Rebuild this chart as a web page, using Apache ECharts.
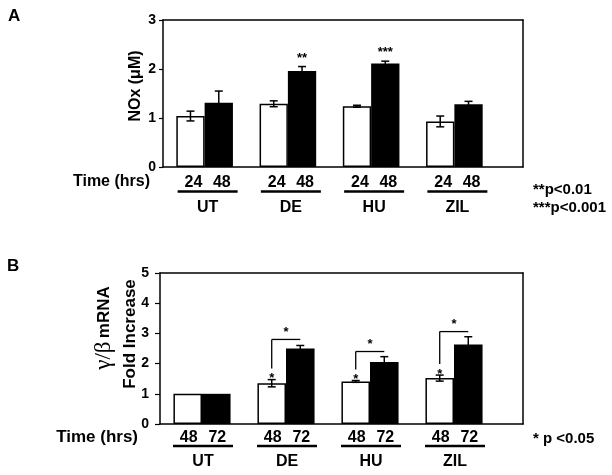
<!DOCTYPE html>
<html>
<head>
<meta charset="utf-8">
<script src="https://cdn.jsdelivr.net/npm/echarts@6/dist/echarts.min.js"></script>
<style>
html,body{margin:0;padding:0;background:#fff;}
#c{width:612px;height:475px;}
</style>
</head>
<body>
<div id="c"></div>
<script>
// ---------- data ----------
const categories = ['UT', 'DE', 'HU', 'ZIL'];

// Panel A: NOx (uM)
const timesA = ['24', '48'];
const nox24 = [1.04, 1.29, 1.24, 0.93];
const nox24Err = [0.10, 0.06, 0.02, 0.11];
const nox48 = [1.31, 1.96, 2.11, 1.28];
const nox48Err = [0.24, 0.09, 0.05, 0.06];
const noxStars = ['', '**', '***', ''];
const yTicksA = [0, 1, 2, 3];

// Panel B: gamma/beta mRNA fold increase
const timesB = ['48', '72'];
const mrna48 = [1.00, 1.35, 1.41, 1.52];
const mrna48Err = [0, 0.12, 0.03, 0.10];
const mrna72 = [1.00, 2.50, 2.05, 2.63];
const mrna72Err = [0, 0.10, 0.18, 0.26];
const mrna48Stars = ['', '*', '*', '*'];
const bracketTop = [null, 2.80, 2.40, 3.06];
const bracketStars = ['', '*', '*', '*'];
const yTicksB = [0, 1, 2, 3, 4, 5];

// ---------- styling ----------
const FONT = '"Liberation Sans", Arial, Helvetica, sans-serif';
const SERIF = '"Liberation Serif", "DejaVu Serif", serif';
const BAR_FRAC = 0.34;
const LW = 1.5;

const chart = echarts.init(document.getElementById('c'), null, {renderer: 'canvas'});

function barXAxis(gridIndex) {
  return {type: 'category', gridIndex, data: categories,
    axisLine: {show: false}, axisTick: {show: false}, axisLabel: {show: false}, splitLine: {show: false}};
}
function barYAxis(gridIndex, ticks, tickLen, margin) {
  return {type: 'value', gridIndex, min: ticks[0], max: ticks[ticks.length - 1], interval: 1,
    axisLine: {show: true, lineStyle: {color: '#000', width: LW}},
    axisTick: {show: true, length: tickLen, lineStyle: {color: '#000', width: 1.2}},
    axisLabel: {show: true, margin, color: '#000', fontFamily: FONT, fontWeight: 'bold', fontSize: 14},
    splitLine: {show: false}};
}
function frameAxes(gridIndex) {
  const line = {show: true, onZero: false, lineStyle: {color: '#000', width: LW}};
  const off = {axisTick: {show: false}, axisLabel: {show: false}, splitLine: {show: false}};
  return {
    x: [
      Object.assign({type: 'value', gridIndex, min: 0, max: 1, position: 'bottom', axisLine: line}, off),
      Object.assign({type: 'value', gridIndex, min: 0, max: 1, position: 'top', axisLine: line}, off)
    ],
    y: [
      Object.assign({type: 'value', gridIndex, min: 0, max: 1, position: 'right', axisLine: line}, off)
    ]
  };
}

function barSeries(xi, yi, vals, white) {
  return {type: 'bar', xAxisIndex: xi, yAxisIndex: yi, data: vals, barWidth: (BAR_FRAC * 100) + '%', barGap: '0%',
    itemStyle: white ? {color: '#fff', borderColor: '#000', borderWidth: LW} : {color: '#000'},
    silent: true, z: 2};
}

function errSeries(xi, yi, vals, errs, side) {
  return {type: 'custom', xAxisIndex: xi, yAxisIndex: yi, clip: false, z: 5, silent: true,
    data: vals.map((v, i) => [i, v, errs[i]]),
    renderItem(params, api) {
      const i = api.value(0), v = api.value(1), e = api.value(2);
      if (!e) return null;
      const bw = api.size([1, 0])[0] * BAR_FRAC;
      const cx = api.coord([i, v])[0] + side * bw / 2;
      const top = api.coord([i, v + e])[1];
      const bot = api.coord([i, v - e])[1];
      const cap = 4;
      const st = {stroke: '#000', lineWidth: LW};
      return {type: 'group', children: [
        {type: 'line', shape: {x1: cx, y1: top, x2: cx, y2: bot}, style: st},
        {type: 'line', shape: {x1: cx - cap, y1: top, x2: cx + cap, y2: top}, style: st},
        {type: 'line', shape: {x1: cx - cap, y1: bot, x2: cx + cap, y2: bot}, style: st}
      ]};
    }};
}

function starSeries(xi, yi, vals, errs, stars, side) {
  return {type: 'custom', xAxisIndex: xi, yAxisIndex: yi, clip: false, z: 6, silent: true,
    data: vals.map((v, i) => [i, v + errs[i]]),
    renderItem(params, api) {
      const s = stars[params.dataIndex];
      if (!s) return null;
      const i = api.value(0);
      const bw = api.size([1, 0])[0] * BAR_FRAC;
      const p = api.coord([i, api.value(1)]);
      return {type: 'text', x: p[0] + side * bw / 2, y: p[1] - 2,
        style: {text: s, fill: '#000', font: 'bold 13px ' + FONT, textAlign: 'center', textVerticalAlign: 'bottom'}};
    }};
}

function bracketSeries(xi, yi) {
  return {type: 'custom', xAxisIndex: xi, yAxisIndex: yi, clip: false, z: 6, silent: true,
    data: mrna48.map((v, i) => [i, v + mrna48Err[i], bracketTop[i] == null ? 0 : bracketTop[i]]),
    renderItem(params, api) {
      const idx = params.dataIndex;
      if (bracketTop[idx] == null) return null;
      const i = api.value(0);
      const bw = api.size([1, 0])[0] * BAR_FRAC;
      const c = api.coord([i, api.value(1)]);
      const xl = c[0] - bw / 2, xr = c[0] + bw / 2;
      const yStar = c[1] - 6;
      const yTop = api.coord([i, api.value(2)])[1];
      const st = {stroke: '#000', lineWidth: 1.3};
      return {type: 'group', children: [
        {type: 'line', shape: {x1: xl, y1: yStar - 5, x2: xl, y2: yTop}, style: st},
        {type: 'line', shape: {x1: xl, y1: yTop, x2: xr, y2: yTop}, style: st},
        {type: 'text', x: xl, y: yStar + 5, style: {text: mrna48Stars[idx], fill: '#000', font: 'bold 13px ' + FONT, textAlign: 'center', textVerticalAlign: 'middle'}},
        {type: 'text', x: (xl + xr) / 2, y: yTop - 1, style: {text: bracketStars[idx], fill: '#000', font: 'bold 13px ' + FONT, textAlign: 'center', textVerticalAlign: 'bottom'}}
      ]};
    }};
}

function labelSeries(xi, yi, times, dy) {
  return {type: 'custom', xAxisIndex: xi, yAxisIndex: yi, clip: false, z: 6, silent: true,
    data: categories.map((c, i) => [i, 0]),
    renderItem(params, api) {
      const idx = params.dataIndex;
      const bw = api.size([1, 0])[0] * BAR_FRAC;
      const p = api.coord([api.value(0), 0]);
      const x = p[0] + dy.shift, y0 = p[1];
      const tf = 'bold 16px ' + FONT;
      return {type: 'group', children: [
        {type: 'text', x: x - bw / 2, y: y0 + dy.t, style: {text: times[0], fill: '#000', font: tf, textAlign: 'center', textVerticalAlign: 'middle'}},
        {type: 'text', x: x + bw / 2, y: y0 + dy.t, style: {text: times[1], fill: '#000', font: tf, textAlign: 'center', textVerticalAlign: 'middle'}},
        {type: 'line', shape: {x1: x - 30, y1: y0 + dy.u, x2: x + 30, y2: y0 + dy.u}, style: {stroke: '#000', lineWidth: 2.5}},
        {type: 'text', x: x, y: y0 + dy.g, style: {text: categories[idx], fill: '#000', font: tf, textAlign: 'center', textVerticalAlign: 'middle'}}
      ]};
    }};
}

const fA = frameAxes(1), fB = frameAxes(3);

const option = {
  animation: false,
  backgroundColor: '#fff',
  grid: [
    {left: 163, top: 20, width: 333, height: 147},
    {left: 163, top: 20, width: 360, height: 147},
    {left: 160, top: 273, width: 336, height: 151},
    {left: 160, top: 273, width: 363, height: 151}
  ],
  xAxis: [barXAxis(0), fA.x[0], fA.x[1], barXAxis(2), fB.x[0], fB.x[1]],
  yAxis: [barYAxis(0, yTicksA, 4, 7), fA.y[0], barYAxis(2, yTicksB, 5, 11), fB.y[0]],
  series: [
    barSeries(0, 0, nox24, true),
    barSeries(0, 0, nox48, false),
    errSeries(0, 0, nox24, nox24Err, -1),
    errSeries(0, 0, nox48, nox48Err, 1),
    starSeries(0, 0, nox48, nox48Err, noxStars, 1),
    labelSeries(0, 0, timesA, {t: 16, u: 24.5, g: 41, shift: 3}),

    barSeries(3, 2, mrna48, true),
    barSeries(3, 2, mrna72, false),
    errSeries(3, 2, mrna48, mrna48Err, -1),
    errSeries(3, 2, mrna72, mrna72Err, 1),
    bracketSeries(3, 2),
    labelSeries(3, 2, timesB, {t: 14, u: 22, g: 37.5, shift: 1})
  ],
  graphic: [
    {type: 'text', x: 8, y: 16, style: {text: 'A', font: 'bold 17px ' + FONT, fill: '#000', textVerticalAlign: 'middle'}},
    {type: 'text', x: 7, y: 266, style: {text: 'B', font: 'bold 17px ' + FONT, fill: '#000', textVerticalAlign: 'middle'}},
    {type: 'text', x: 136, y: 86, rotation: Math.PI / 2, style: {text: 'NOx (μM)', font: 'bold 16px ' + FONT, fill: '#000', textAlign: 'center', textVerticalAlign: 'middle'}},
    {type: 'text', x: 104, y: 328, rotation: Math.PI / 2, style: {
      text: '{g|γ/β} {b|mRNA}', fill: '#000', textAlign: 'center', textVerticalAlign: 'middle',
      rich: {g: {font: '23px ' + SERIF, fill: '#000'}, b: {font: 'bold 17px ' + FONT, fill: '#000'}}}},
    {type: 'text', x: 130, y: 334, rotation: Math.PI / 2, style: {text: 'Fold Increase', font: 'bold 17px ' + FONT, fill: '#000', textAlign: 'center', textVerticalAlign: 'middle'}},
    {type: 'text', x: 150, y: 182, style: {text: 'Time (hrs)', font: 'bold 16px ' + FONT, fill: '#000', textAlign: 'right', textVerticalAlign: 'middle'}},
    {type: 'text', x: 138, y: 437, style: {text: 'Time (hrs)', font: 'bold 17px ' + FONT, fill: '#000', textAlign: 'right', textVerticalAlign: 'middle'}},
    {type: 'text', x: 533, y: 190, style: {text: '**p<0.01', font: 'bold 15px ' + FONT, fill: '#000', textVerticalAlign: 'middle'}},
    {type: 'text', x: 533, y: 208, style: {text: '***p<0.001', font: 'bold 15px ' + FONT, fill: '#000', textVerticalAlign: 'middle'}},
    {type: 'text', x: 533, y: 439, style: {text: '* p <0.05', font: 'bold 15px ' + FONT, fill: '#000', textVerticalAlign: 'middle'}}
  ]
};
chart.setOption(option);
</script>
</body>
</html>
